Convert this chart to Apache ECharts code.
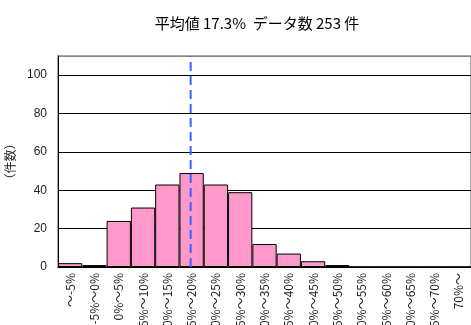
<!DOCTYPE html>
<html><head><meta charset="utf-8">
<script src="https://cdn.jsdelivr.net/npm/echarts@6/dist/echarts.min.js"></script>
<style>html,body{margin:0;padding:0;background:#fff}#c{width:471px;height:325px}</style>
</head><body><div id="c"></div>
<script>
const categories = ['～-5%','-5%～0%','0%～5%','5%～10%','10%～15%','15%～20%','20%～25%','25%～30%','30%～35%','35%～40%','40%～45%','45%～50%','50%～55%','55%～60%','60%～65%','65%～70%','70%～'];
const counts = [2,1,24,31,43,49,43,39,12,7,3,1,0,0,0,0,0];
const meanPct = 17.3;
const dataCount = 253;
const yTicks = [0,20,40,60,80,100];
const binStart = -10, binWidth = 5;

const chart = echarts.init(document.getElementById('c'));
chart.setOption({
  animation:false,
  title:{text:'平均値 ' + meanPct + '%  データ数 ' + dataCount + ' 件', left:252, textAlign:'center', top:11,
    textStyle:{fontFamily:'"Noto Sans CJK JP"', fontSize:15, fontWeight:'normal', color:'#000'}},
  grid:{left:58, right:0, top:56, bottom:58, show:true, borderColor:'#888', borderWidth:1.5, outerBoundsMode:'none', containLabel:false},
  xAxis:[{type:'category', data:categories, boundaryGap:true,
    axisLine:{lineStyle:{color:'#000', width:1}},
    axisTick:{inside:true, length:4, lineStyle:{color:'#555'}},
    axisLabel:{rotate:90, interval:0, fontSize:12, color:'#222', margin:6, fontFamily:'"Noto Sans CJK JP"'}},
    {type:'value', min:binStart, max:binStart+binWidth*categories.length, show:false}],
  yAxis:{type:'value', min:0, max:110, interval:20, name:'（件数）', nameLocation:'middle', nameRotate:90, nameGap:40,
    nameTextStyle:{fontSize:12, color:'#222', fontFamily:'"Noto Sans CJK JP"'},
    axisLine:{show:true, onZero:false, lineStyle:{color:'#000'}}, axisTick:{show:false},
    axisLabel:{fontSize:12, color:'#222', margin:11, showMaxLabel:false,
      formatter:v=> yTicks.includes(v) ? String(v) : ''},
    splitLine:{lineStyle:{color:['#000','#000','#000','#000','#000','#000','#888'], width:1}}},
  series:[{type:'bar', data:counts, barCategoryGap:0, xAxisIndex:0,
    itemStyle:{color:'#ff99cc', borderColor:'#000', borderWidth:1}},
    {type:'line', xAxisIndex:1, data:[[meanPct,0],[meanPct,110]], symbol:'none', z:5,
      lineStyle:{color:'#3366ff', width:2, type:[9,5]}}]
});
</script></body></html>
